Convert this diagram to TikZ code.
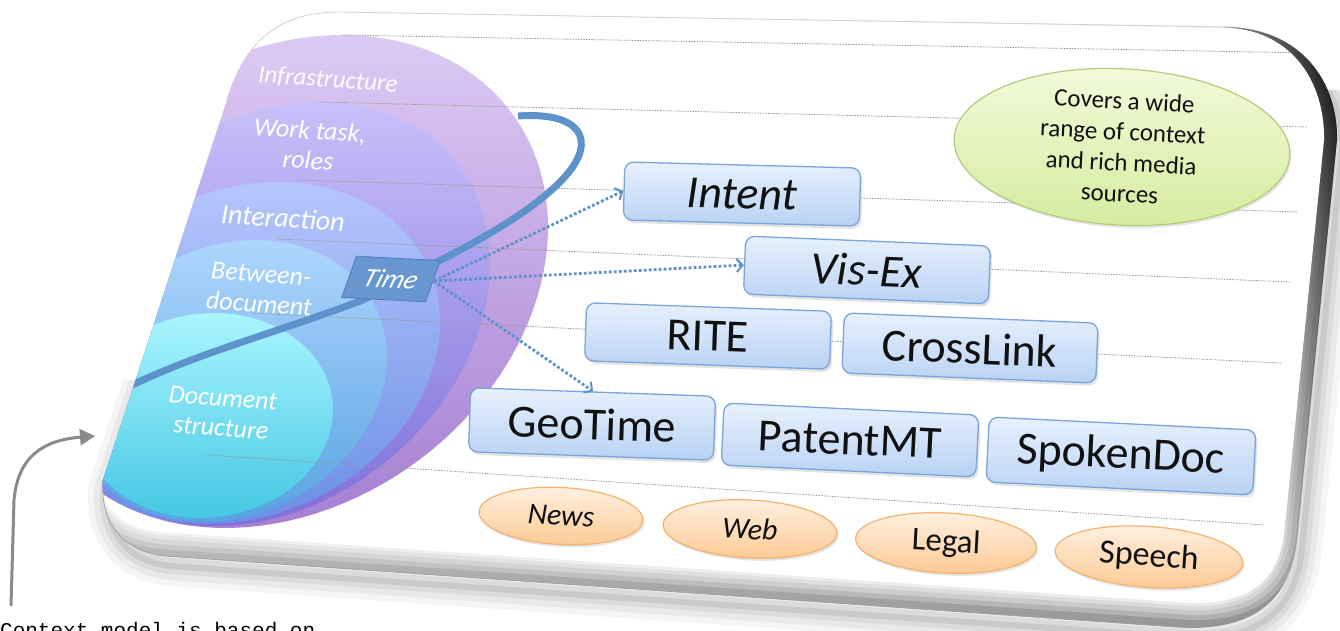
\documentclass[tikz,border=0pt]{standalone}
\usepackage{fontspec}
\setmainfont{Carlito}
\newfontfamily\monofont{Liberation Mono}
\usetikzlibrary{shapes.geometric,arrows.meta,shadows,fadings}

\definecolor{boxtop}{HTML}{E8F1FD}
\definecolor{boxbot}{HTML}{B8D2F4}
\definecolor{boxborder}{HTML}{7BA5DA}
\definecolor{orgtop}{HTML}{FFF1E2}
\definecolor{orgbot}{HTML}{FCCB96}
\definecolor{orgborder}{HTML}{F4B26E}
\definecolor{grnT}{HTML}{F3FADC}
\definecolor{grnB}{HTML}{D5EC9F}
\definecolor{grnborder}{HTML}{B2CC7E}
\definecolor{timefill}{HTML}{6797CE}
\definecolor{timeborder}{HTML}{4F7FB8}
\definecolor{timeblue}{HTML}{5E92CB}
\definecolor{rulegray}{HTML}{9A9A9A}
\definecolor{arrowgray}{HTML}{8A8A8A}
\definecolor{txt}{HTML}{111111}
\definecolor{infT}{HTML}{DCCAF4}
\definecolor{infB}{HTML}{A67FD2}
\definecolor{wrkT}{HTML}{C7C0F9}
\definecolor{wrkB}{HTML}{7E6FDA}
\definecolor{intT}{HTML}{B6C6FC}
\definecolor{intB}{HTML}{6B8FE5}
\definecolor{betT}{HTML}{AED6FD}
\definecolor{betB}{HTML}{58A2E2}
\definecolor{docT}{HTML}{AAF5FF}
\definecolor{docB}{HTML}{45C7E3}

\def\outerpath{(227,100) .. controls (245,40) and (280,13) .. (337,12) -- (1230,27) .. controls (1300,30) and (1338,80) .. (1337,140) -- (1297,540) .. controls (1290,600) and (1255,628) .. (1190,628) -- (165,556) .. controls (120,551) and (100,520) .. (103,480) -- cycle}
\def\innerpath{(227,100) .. controls (245,40) and (280,13) .. (337,12) -- (1230,28) .. controls (1292,32) and (1325,82) .. (1324,140) -- (1284,535) .. controls (1277,585) and (1245,604) .. (1190,603) -- (160,532) .. controls (118,527) and (100,505) .. (103,480) -- cycle}
\newcommand\layerplot[5]{plot[domain=0:360,samples=120,variable=\ang] ({#1+#3*cos(\ang)+#4*sin(\ang)},{#2-#5*cos(\ang)})}

\begin{document}
\begin{tikzpicture}[x=1pt,y=-1pt,
  sysbox/.style={draw=boxborder,line width=1.3pt,rounded corners=9pt,top color=boxtop,bottom color=boxbot,inner sep=0pt,font=\fontsize{46}{48}\selectfont,text=txt,drop shadow={shadow xshift=2pt,shadow yshift=-3pt,opacity=0.22}},
  srcell/.style={ellipse,draw=orgborder,line width=1.2pt,top color=orgtop,bottom color=orgbot,inner sep=0pt,text=txt,drop shadow={shadow xshift=1.5pt,shadow yshift=-2.5pt,opacity=0.2}},
  layerlabel/.style={text=white,font=\itshape\fontsize{26}{30}\selectfont,align=center,rotate=-4,inner sep=0pt},
  ruleline/.style={draw=rulegray,line width=0.8pt,dash pattern=on 1.5pt off 1.2pt},
  tarrow/.style={draw=timeblue,line width=2.8pt,dash pattern=on 2.8pt off 2.2pt,-{Straight Barb[length=6pt,width=13pt,line width=2pt]}},
]
\useasboundingbox (0,0) rectangle (1340,631);

% soft outer shadow
\begin{scope}
  \clip (0,380) rectangle (1340,640) (1260,90) rectangle (1340,640);
  \begin{scope}[shift={(5,10)}]
    \foreach \w/\o in {40/0.04,28/0.05,16/0.06,6/0.08}{\draw[black,opacity=\o,line width=\w pt] \outerpath;}
  \end{scope}
\end{scope}

% board with bevel
\begin{scope}
  \clip \outerpath;
  \shade[left color=gray!55,right color=gray!85] \outerpath;
  \foreach \w/\o in {34/0.25,24/0.3,14/0.35,6/0.45}{\draw[white,opacity=\o,line width=\w pt] \innerpath;}
  \shade[left color=gray!80,right color=black,path fading=south] (1225,20) rectangle (1340,620);
  \fill[white] \innerpath;
\end{scope}
\draw[gray!75,line width=0.7pt] (103,480) .. controls (100,520) and (120,551) .. (165,556) -- (1190,628);
\draw[gray!35,line width=0.8pt] (227,100) .. controls (245,40) and (280,13) .. (337,12) -- (1230,27);

% layers
\begin{scope}
  \clip \innerpath;
  \shade[top color=infT,bottom color=infB] \layerplot{283.5}{281.5}{58.5}{258}{246.5} -- cycle;
  \shade[top color=wrkT,bottom color=wrkB] \layerplot{267.5}{314}{52.5}{216.2}{212} -- cycle;
  \shade[top color=intT,bottom color=intB] \layerplot{243}{353}{35}{193.9}{171} -- cycle;
  \shade[top color=betT,bottom color=betB] \layerplot{229.5}{381}{26.5}{155.3}{141} -- cycle;
  \shade[top color=docT,bottom color=docB] \layerplot{207}{415.5}{7}{125.8}{102.5} -- cycle;
  \draw[ruleline] (343,35) -- (1310,53);
  \draw[ruleline] (320,102) -- (1307,127);
  \draw[ruleline] (297,180) -- (1298,212);
  \draw[ruleline] (277,239) -- (1290,282);
  \draw[ruleline] (252,313) -- (1281,363);
  \draw[ruleline] (207,455) -- (1264,525);
  \coordinate (hookstart) at (518,116);
  \coordinate (hookend) at (118,392);
  \draw[timeblue,line width=7pt] (hookstart) .. controls (575,112) and (595,135) .. (572,168) .. controls (545,205) and (480,240) .. (437,262) -- (363,300) .. controls (270,335) and (190,355) .. (hookend);
\end{scope}

% layer labels
\node[layerlabel,font=\itshape\fontsize{25}{30}\selectfont] (infra) at (328,80) {Infrastructure};
\node[layerlabel] (work) at (309,145) {Work task,\\roles};
\node[layerlabel,font=\itshape\fontsize{28}{30}\selectfont] (inter) at (283,218) {Interaction};
\node[layerlabel] (between) at (260,289) {Between-\\document};
\node[layerlabel] (docstr) at (222,413) {Document\\structure};

% time box
\node[fill=timefill,draw=timeborder,line width=0.8pt,text=white,font=\itshape\fontsize{27}{27}\selectfont,minimum width=84pt,minimum height=42pt,rotate=-3,xslant=0.3,inner sep=0pt] (time) at (391,279) {Time};

% boxes
\node[sysbox,font=\itshape\fontsize{46}{48}\selectfont,minimum width=236pt,minimum height=58pt,rotate=-1.5] (intent) at (742,194) {Intent};
\node[sysbox,font=\itshape\fontsize{46}{48}\selectfont,minimum width=245pt,minimum height=58pt,rotate=-2.3] (visex) at (867,270) {Vis-Ex};
\node[sysbox,minimum width=245pt,minimum height=58pt,rotate=-2] (rite) at (708,336) {RITE};
\node[sysbox,minimum width=254pt,minimum height=60pt,rotate=-2.3] (crosslink) at (970,348) {CrossLink};
\node[sysbox,minimum width=245pt,minimum height=64pt,rotate=-2] (geotime) at (592,424) {GeoTime};
\node[sysbox,minimum width=255pt,minimum height=62pt,rotate=-2.7] (patentmt) at (850,440) {PatentMT};
\node[sysbox,minimum width=267pt,minimum height=65pt,rotate=-2.8] (spokendoc) at (1121,456) {SpokenDoc};

% arrows from Time
\coordinate (tsrc) at (434,281);
\draw[tarrow] (tsrc) -- (intent.west);
\draw[tarrow] (tsrc) -- (visex.west);
\draw[tarrow] (tsrc) -- (geotime.north);

% sources
\node[srcell,font=\itshape\fontsize{30}{30}\selectfont,minimum width=164pt,minimum height=57pt,rotate=-3] (news) at (561,516) {News};
\node[srcell,font=\itshape\fontsize{30}{30}\selectfont,minimum width=174pt,minimum height=58pt,rotate=-3] (web) at (750,529) {Web};
\node[srcell,font=\fontsize{33}{33}\selectfont,minimum width=181pt,minimum height=60pt,rotate=-3] (legal) at (946,543) {Legal};
\node[srcell,font=\fontsize{34}{34}\selectfont,minimum width=188pt,minimum height=61pt,rotate=-4] (speech) at (1149,557) {Speech};

% green note
\node[ellipse,draw=grnborder,line width=1.2pt,top color=grnT,bottom color=grnB,minimum width=336pt,minimum height=137pt,inner sep=0pt,align=center,text=txt,font=\fontsize{25}{31}\selectfont,rotate=-3,drop shadow={shadow xshift=1.5pt,shadow yshift=-2.5pt,opacity=0.2}] (cover) at (1122,147) {Covers a wide\\range of context\\and rich media\\sources};

% grey arrow and caption
\coordinate (gstart) at (11,606);
\coordinate (gend) at (95,436);
\draw[arrowgray,line width=3pt,-{Triangle[length=15pt,width=16pt]}] (gstart) -- (14,500) .. controls (18,455) and (45,440) .. (gend);
\node[anchor=base west,font=\monofont\fontsize{21}{21}\selectfont,inner sep=0pt,text=black] (caption) at (0,637) {Context model is based on};
\end{tikzpicture}
\end{document}
